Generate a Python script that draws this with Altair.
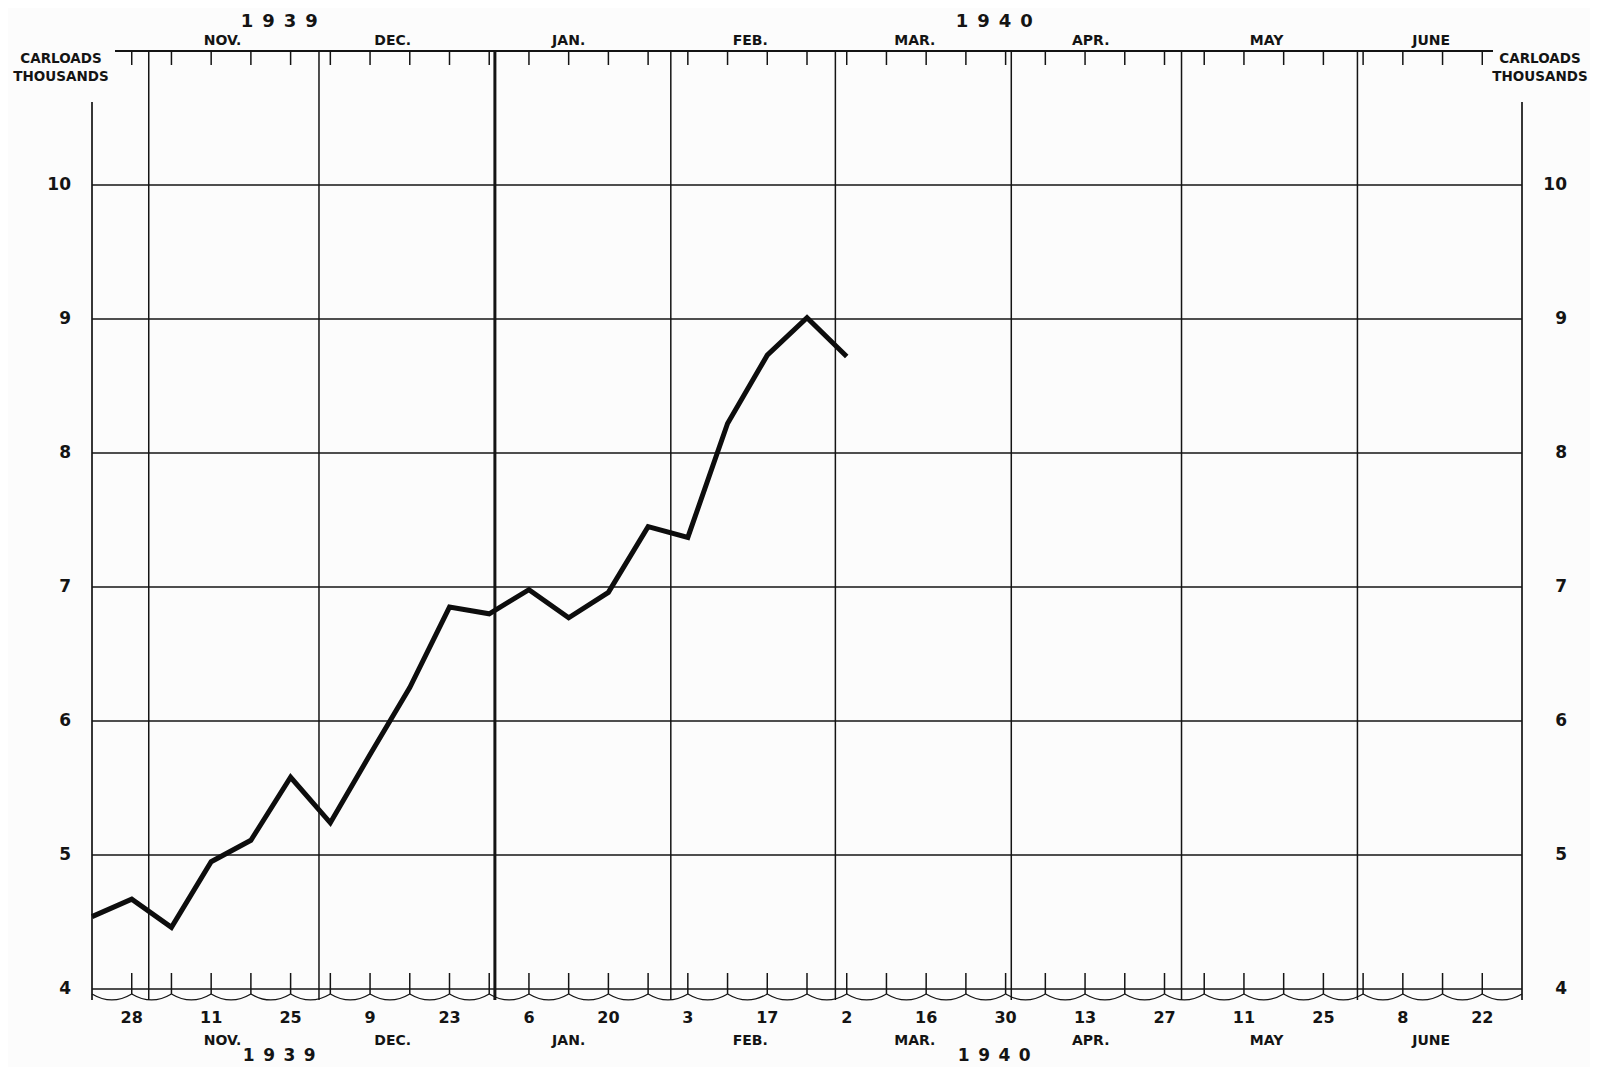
import altair as alt
import pandas as pd

# ---------------- data ----------------
week_dates = ["1939-10-21", "1939-10-28", "1939-11-04", "1939-11-11", "1939-11-18",
              "1939-11-25", "1939-12-02", "1939-12-09", "1939-12-16", "1939-12-23",
              "1939-12-30", "1940-01-06", "1940-01-13", "1940-01-20", "1940-01-27",
              "1940-02-03", "1940-02-10", "1940-02-17", "1940-02-24", "1940-03-02"]
carloads = [4.54, 4.67, 4.46, 4.95, 5.11, 5.58, 5.24, 5.75, 6.25, 6.85,
            6.80, 6.98, 6.77, 6.96, 7.45, 7.37, 8.22, 8.73, 9.01, 8.72]

tick_dates = ["1939-10-28", "1939-11-04", "1939-11-11", "1939-11-18", "1939-11-25",
              "1939-12-02", "1939-12-09", "1939-12-16", "1939-12-23", "1939-12-30",
              "1940-01-06", "1940-01-13", "1940-01-20", "1940-01-27", "1940-02-03",
              "1940-02-10", "1940-02-17", "1940-02-24", "1940-03-02", "1940-03-09",
              "1940-03-16", "1940-03-23", "1940-03-30", "1940-04-06", "1940-04-13",
              "1940-04-20", "1940-04-27", "1940-05-04", "1940-05-11", "1940-05-18",
              "1940-05-25", "1940-06-01", "1940-06-08", "1940-06-15", "1940-06-22"]
label_dates = ["1939-10-28", "1939-11-11", "1939-11-25", "1939-12-09", "1939-12-23",
               "1940-01-06", "1940-01-20", "1940-02-03", "1940-02-17", "1940-03-02",
               "1940-03-16", "1940-03-30", "1940-04-13", "1940-04-27", "1940-05-11",
               "1940-05-25", "1940-06-08", "1940-06-22"]
day_labels = ["28", "11", "25", "9", "23", "6", "20", "3", "17", "2",
              "16", "30", "13", "27", "11", "25", "8", "22"]

month_ends = ["1939-10-31", "1939-11-30", "1940-01-31", "1940-02-29",
              "1940-03-31", "1940-04-30", "1940-05-31"]
year_end = ["1939-12-31"]

month_names = ["NOV.", "DEC.", "JAN.", "FEB.", "MAR.", "APR.", "MAY", "JUNE"]
month_label_dates = ["1939-11-13", "1939-12-13", "1940-01-13", "1940-02-14",
                     "1940-03-14", "1940-04-14", "1940-05-15", "1940-06-13"]

year_names = ["1\u20029\u20023\u20029", "1\u20029\u20024\u20020"]
year_label_dates = ["1939-11-23", "1940-03-28"]

y_values = [4, 5, 6, 7, 8, 9, 10]
y_labels = ["4", "5", "6", "7", "8", "9", "10"]
unit_lines = ["CARLOADS", "THOUSANDS"]

start_date = "1939-10-21"
end_date = "1940-06-29"

# ---------------- layout ----------------
W, H = 1430, 938
INK = "#141414"
FONT = "DejaVu Sans"

xscale = alt.Scale(type="utc",
                   domain=[alt.DateTime(year=1939, month=10, date=21, utc=True),
                           alt.DateTime(year=1940, month=6, date=29, utc=True)])
yscale = alt.Scale(domain=[4, 11], nice=False, zero=False)


def X(f):
    return alt.X(f"{f}:T", scale=xscale, axis=None)


def Y(f):
    return alt.Y(f"{f}:Q", scale=yscale, axis=None)


series = pd.DataFrame({"date": week_dates, "v": carloads})
ticks = pd.DataFrame({"date": tick_dates})
labels = pd.DataFrame({"date": label_dates, "t": day_labels})
months = pd.DataFrame({"date": month_ends})
yearb = pd.DataFrame({"date": year_end})
mnames = pd.DataFrame({"date": month_label_dates, "t": month_names})
ynames = pd.DataFrame({"date": year_label_dates, "t": year_names})
ylab = pd.DataFrame({"v": y_values, "t": y_labels})
units = pd.DataFrame({"t": unit_lines, "row": [0, 1]})

wave_starts = pd.to_datetime([start_date] + tick_dates)
wave = pd.DataFrame({"date": (wave_starts + pd.Timedelta(hours=84)).strftime("%Y-%m-%dT%H:%M:%SZ"),
                     "v": [4] * len(wave_starts)})

# horizontal grid lines (including base line at 4)
grid = alt.Chart(ylab).mark_rule(color=INK, strokeWidth=1.5).encode(
    y=Y("v"), x=alt.value(0), x2=alt.value(W))

# left / right frame lines
frame = alt.Chart(pd.DataFrame({"date": [start_date, end_date]})).mark_rule(
    color=INK, strokeWidth=1.7).encode(x=X("date"), y=alt.value(51), y2=alt.value(H + 11))

# month boundary lines
mlines = alt.Chart(months).mark_rule(color=INK, strokeWidth=1.5).encode(
    x=X("date"), y=alt.value(0), y2=alt.value(H + 11))
ylines = alt.Chart(yearb).mark_rule(color=INK, strokeWidth=3).encode(
    x=X("date"), y=alt.value(0), y2=alt.value(H + 11))

# top date line
topline = alt.Chart(ticks).mark_rule(color=INK, strokeWidth=1.7).encode(
    x=alt.value(23), x2=alt.value(W - 29), y=alt.value(0))

top_ticks = alt.Chart(ticks).mark_rule(color=INK, strokeWidth=1.5).encode(
    x=X("date"), y=alt.value(0), y2=alt.value(14))
bot_ticks = alt.Chart(ticks).mark_rule(color=INK, strokeWidth=1.5).encode(
    x=X("date"), y=alt.value(H - 16), y2=alt.value(H + 5))

# scalloped break line under the base
wave_marks = alt.Chart(wave).mark_point(
    shape="M -1 0 Q 0 0.6 1 0", filled=False, size=1576, color=INK,
    strokeWidth=1.3, opacity=1, yOffset=5).encode(x=X("date"), y=Y("v"))

# data line
line = alt.Chart(series).mark_line(color="#0d0d0d", strokeWidth=5,
                                   strokeJoin="miter").encode(x=X("date"), y=Y("v"))

# text
def txt(size, **kw):
    return dict(font=FONT, fontWeight="bold", fontSize=size, color=INK, **kw)

day_text = alt.Chart(labels).mark_text(**txt(16, baseline="middle")).encode(
    x=X("date"), y=alt.value(H + 29), text="t:N")
mon_bot = alt.Chart(mnames).mark_text(**txt(14, baseline="middle")).encode(
    x=X("date"), y=alt.value(H + 52), text="t:N")
mon_top = alt.Chart(mnames).mark_text(**txt(14, baseline="middle")).encode(
    x=X("date"), y=alt.value(-10), text="t:N")
yr_bot = alt.Chart(ynames).mark_text(**txt(17, baseline="middle")).encode(
    x=X("date"), y=alt.value(H + 67), text="t:N")
yr_top = alt.Chart(ynames).mark_text(**txt(18, baseline="middle")).encode(
    x=X("date"), y=alt.value(-29), text="t:N")

yl_left = alt.Chart(ylab).mark_text(**txt(17, baseline="middle", align="right")).encode(
    y=Y("v"), x=alt.value(-21), text="t:N")
yl_right = alt.Chart(ylab).mark_text(**txt(17, baseline="middle", align="right")).encode(
    y=Y("v"), x=alt.value(W + 45), text="t:N")

unit_left = alt.Chart(units).mark_text(**txt(13.5, baseline="middle", align="center")).encode(
    x=alt.value(-31), y=alt.Y("row:Q", scale=alt.Scale(domain=[0, 1], range=[8, 26]), axis=None),
    text="t:N")
unit_right = alt.Chart(units).mark_text(**txt(13.5, baseline="middle", align="center")).encode(
    x=alt.value(W + 18), y=alt.Y("row:Q", scale=alt.Scale(domain=[0, 1], range=[8, 26]), axis=None),
    text="t:N")

chart = alt.layer(
    grid, mlines, ylines, frame, topline, top_ticks, bot_ticks, wave_marks, line,
    day_text, mon_bot, mon_top, yr_bot, yr_top, yl_left, yl_right, unit_left, unit_right
).resolve_scale(y="independent").properties(
    width=W, height=H,
    autosize="none",
    padding={"left": 84, "top": 43, "right": 68, "bottom": 78},
    background="#fcfcfc",
).configure_view(stroke=None)

chart.save("out.html", embed_options={"renderer": "svg", "actions": False})
